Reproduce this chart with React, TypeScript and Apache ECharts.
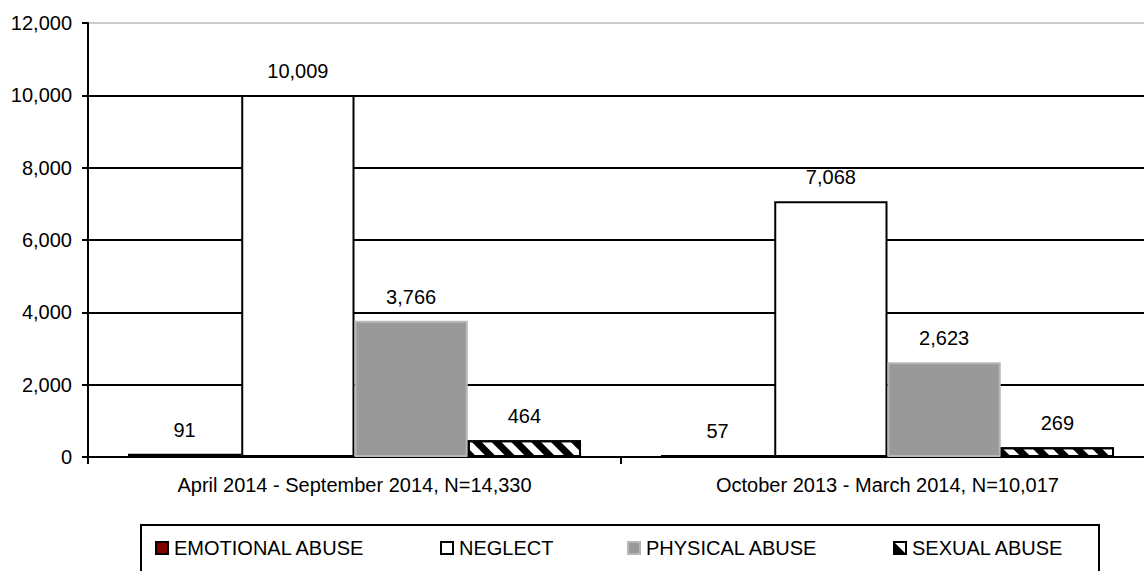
import React, { useEffect, useRef } from "react";
import * as echarts from "echarts";

const categories = [
  "April 2014 - September 2014, N=14,330",
  "October 2013 - March 2014, N=10,017",
];
const seriesNames = ["EMOTIONAL ABUSE", "NEGLECT", "PHYSICAL ABUSE", "SEXUAL ABUSE"];
const emotional = [91, 57];
const neglect = [10009, 7068];
const physical = [3766, 2623];
const sexual = [464, 269];
const yTicks = [0, 2000, 4000, 6000, 8000, 10000, 12000];

const FONT = "'Liberation Sans', Arial, sans-serif";
const fmt = (v: number) => v.toLocaleString("en-US");

export default function App() {
  const ref = useRef<HTMLDivElement>(null);
  useEffect(() => {
    if (!ref.current) return;
    const chart = echarts.init(ref.current, undefined, { renderer: "svg" });
    const label = {
      show: true,
      position: "top" as const,
      distance: 14,
      color: "#000",
      fontFamily: FONT,
      fontSize: 20,
      formatter: (p: any) => fmt(p.value),
    };
    const styles = [
      { color: "#800000", borderColor: "#000", borderWidth: 2 },
      { color: "#ffffff", borderColor: "#000", borderWidth: 2 },
      { color: "#999999", borderColor: "#b8b8b8", borderWidth: 2 },
      {
        color: "#ffffff",
        borderColor: "#000",
        borderWidth: 2,
        decal: {
          symbol: "rect",
          symbolSize: 1,
          color: "#000",
          backgroundColor: "#fff",
          dashArrayX: [1, 0],
          dashArrayY: [7, 7],
          rotation: Math.PI / 4,
        },
      },
    ];
    const values = [emotional, neglect, physical, sexual];
    const legendLefts = [155, 440, 627, 893];
    chart.setOption({
      animation: false,
      textStyle: { fontFamily: FONT },
      grid: { left: 88, right: 6, top: 23, bottom: 114, containLabel: false },
      legend: seriesNames.map((n, i) => ({
        data: [n],
        left: legendLefts[i],
        top: 538,
        padding: 0,
        icon: "rect",
        itemWidth: 12,
        itemHeight: 12,
        itemGap: 4,
        selectedMode: false,
        textStyle: { color: "#000", fontSize: 20, fontFamily: FONT, padding: [0, 0, 0, 1] },
      })),
      xAxis: {
        type: "category",
        data: categories,
        axisLine: { show: true, lineStyle: { color: "#000", width: 2 } },
        axisTick: { show: true, length: 7, lineStyle: { color: "#000", width: 2 } },
        axisLabel: { color: "#000", fontSize: 20, fontFamily: FONT, margin: 18 },
      },
      yAxis: {
        type: "value",
        min: 0,
        max: 12000,
        interval: 2000,
        axisLine: { show: true, lineStyle: { color: "#000", width: 2 } },
        axisTick: { show: true, length: 6, lineStyle: { color: "#000", width: 2 } },
        axisLabel: {
          color: "#000",
          fontSize: 20,
          fontFamily: FONT,
          margin: 16,
          formatter: (v: number) => (yTicks.includes(v) ? fmt(v) : ""),
        },
        splitLine: {
          show: true,
          lineStyle: {
            color: ["#000", "#000", "#000", "#000", "#000", "#000", "#cccccc"],
            width: 2,
          },
        },
      },
      graphic: [
        {
          type: "rect",
          shape: { x: 141, y: 525, width: 958, height: 70 },
          style: { fill: "none", stroke: "#000", lineWidth: 2 },
          z: 100,
        },
      ],
      series: seriesNames.map((n, i) => ({
        name: n,
        type: "bar",
        data: values[i],
        barGap: "0%",
        barCategoryGap: "15%",
        itemStyle: styles[i],
        label,
      })),
    });
    return () => chart.dispose();
  }, []);
  return (
    <div
      ref={ref}
      style={{ position: "fixed", left: 0, top: 0, width: 1160, height: 571, background: "#fff" }}
    />
  );
}
